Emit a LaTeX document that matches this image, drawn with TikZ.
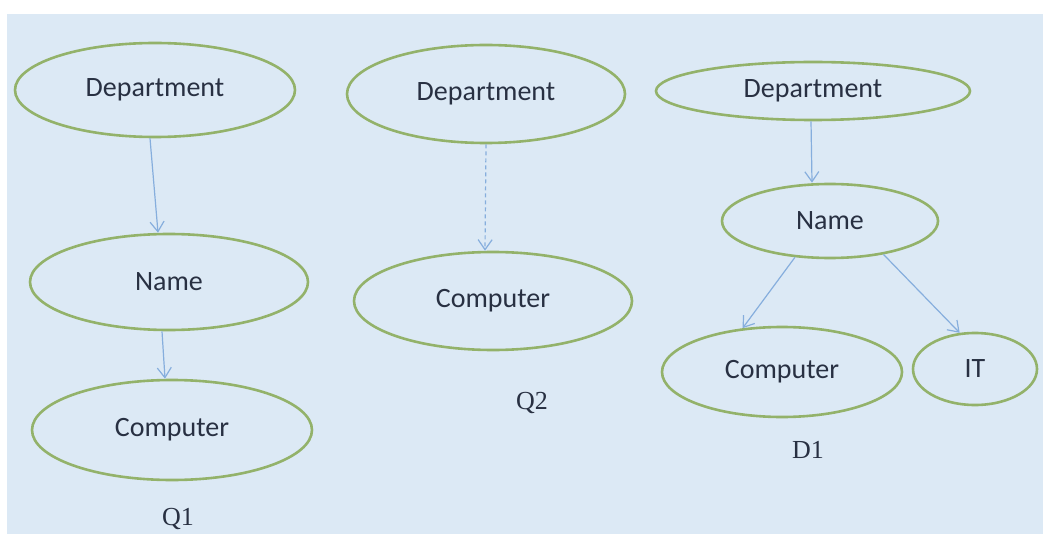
\documentclass[tikz,border=0pt]{standalone}
\usepackage{fontspec}
\setsansfont{Carlito}
\newfontfamily\labelfont{Liberation Serif}
\usepackage{xcolor}
\usetikzlibrary{arrows.meta,shapes.geometric}
\definecolor{paper}{HTML}{DCE9F5}
\definecolor{entgreen}{HTML}{93B26A}
\definecolor{linkblue}{HTML}{86AEDD}
\definecolor{inkblue}{HTML}{283042}

\begin{document}
\begin{tikzpicture}[x=0.5pt,y=-0.5pt,
  ent/.style={ellipse,draw=entgreen,line width=1.3pt,inner sep=0pt,
    text=inkblue,font=\sffamily\fontsize{14}{16}\selectfont},
  link/.style={-{Straight Barb[length=5pt,width=7pt]},linkblue,line width=0.6pt},
  qname/.style={text=inkblue,font=\labelfont\fontsize{13}{15}\selectfont}]
  \useasboundingbox[fill=white] (0,0) rectangle (1043,534);
  \fill[paper] (7,14) rectangle (1043,534);
  % Q1
  \node[ent,minimum width=140pt,minimum height=47pt] (dep1) at (155,90) {Department};
  \node[ent,minimum width=139pt,minimum height=48pt] (name1) at (169,282) {Name};
  \node[ent,minimum width=140pt,minimum height=50pt] (comp1) at (172,430) {Computer};
  \node[qname] (q1) at (178,519) {Q1};
  \draw[link] ([xshift=-2.5pt]dep1.south) -- ([xshift=-5.5pt]name1.north);
  \draw[link] ([xshift=-3.5pt]name1.south) -- ([xshift=-3.5pt]comp1.north);
  % Q2
  \node[ent,minimum width=139pt,minimum height=49pt] (dep2) at (486,94) {Department};
  \node[ent,minimum width=139pt,minimum height=49pt] (comp2) at (493,301) {Computer};
  \node[qname] (q2) at (532,403) {Q2};
  \draw[link,dash pattern=on 2pt off 1.5pt] (dep2.south) -- ([xshift=-4pt]comp2.north);
  % D1
  \node[ent,minimum width=157pt,minimum height=29pt] (dep3) at (813,91) {Department};
  \node[ent,minimum width=108pt,minimum height=37pt] (name3) at (830,221) {Name};
  \node[ent,minimum width=120pt,minimum height=45pt] (comp3) at (782,372) {Computer};
  \node[ent,minimum width=62pt,minimum height=36pt] (it3) at (975,369) {IT};
  \node[qname] (d1) at (808,450) {D1};
  \draw[link] ([xshift=-1pt]dep3.south) -- ([xshift=-9pt]name3.north);
  \draw[link] (name3.226) -- (comp3.132);
  \draw[link] (name3.328) -- (it3.113);
\end{tikzpicture}
\end{document}
